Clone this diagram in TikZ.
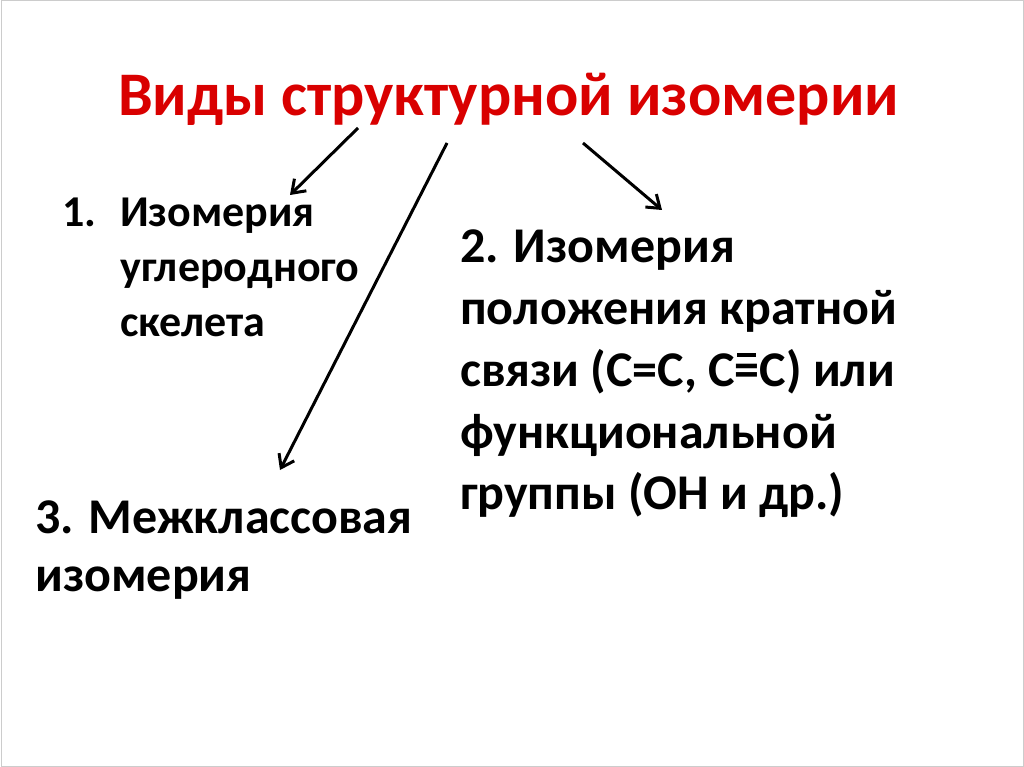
\documentclass[tikz,border=0pt]{standalone}
\usepackage{fontspec}
\setmainfont{Carlito}
\usetikzlibrary{arrows.meta}
\newcommand{\trib}{\makebox[0pt][l]{\hspace{0.05em}\raisebox{0.58em}{\rule{0.38em}{0.085em}}}=}
\begin{document}
\begin{tikzpicture}[x=1pt,y=-1pt,
  ln/.style={anchor=base west,inner sep=0pt,font=\fontsize{50}{60}\selectfont\bfseries},
  ln1/.style={ln,font=\fontsize{44}{55}\selectfont\bfseries},
  arr/.style={line width=3pt,-{Straight Barb[length=12pt,width=17pt,line width=3pt]}}]
\useasboundingbox (0,0) rectangle (1024,767);
\draw[gray!40,line width=1pt] (1,1) rectangle (1023,766);
\node[anchor=base west,inner sep=0pt,text=red!85!black,font=\fontsize{62}{60}\selectfont\bfseries] (t) at (118,116) {Виды структурной изомерии};
\node[ln1] (n1) at (62,226) {1.};
\node[ln1] (a11) at (120,226) {Изомерия};
\node[ln1] (a12) at (120,281) {углеродного};
\node[ln1] (a13) at (120,336) {скелета};
\node[ln] (a21) at (460,262) {2. Изомерия};
\node[ln] (a22) at (460,324) {положения кратной};
\node[ln] (a23) at (460,386) {связи (С=С, С\trib С) или};
\node[ln] (a24) at (460,448) {функциональной};
\node[ln] (a25) at (460,509) {группы (ОН и др.)};
\node[ln] (a31) at (35,533) {3. Межклассовая};
\node[ln] (a32) at (35,591) {изомерия};
\coordinate (s1) at (358,128); \coordinate (e1) at (290,195);
\coordinate (s2) at (447,143); \coordinate (e2) at (280,470);
\coordinate (s3) at (583,143); \coordinate (e3) at (662,210);
\draw[arr] (s1) -- (e1);
\draw[arr] (s2) -- (e2);
\draw[arr] (s3) -- (e3);
\end{tikzpicture}
\end{document}
